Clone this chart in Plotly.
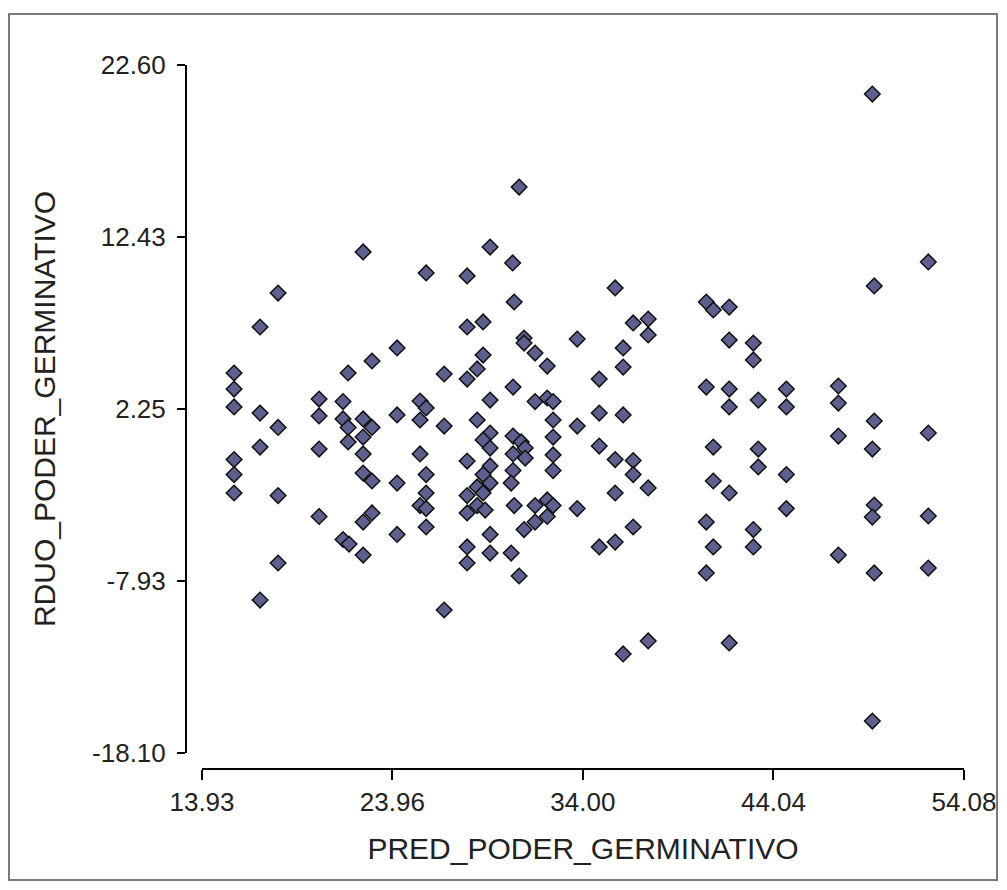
import plotly.graph_objects as go

# Predicted germination power vs. residuals
pred = [
    15.62, 15.62, 15.62, 15.62, 15.62, 15.62,
    16.99, 16.99, 16.99, 16.99,
    17.94, 17.94, 17.94, 17.94,
    20.10, 20.10, 20.10, 20.10,
    21.36, 21.36, 21.63, 21.63, 21.63, 21.36, 21.68,
    22.42, 22.89, 22.42, 22.89, 22.42, 22.42, 22.42, 22.89, 22.89, 22.42, 22.42,
    24.21, 24.21, 24.21, 24.21,
    25.74, 25.42, 25.74, 25.42, 25.42, 25.74, 25.74, 25.42, 25.74, 25.74,
    26.69, 26.69, 26.69,
    27.90, 29.11, 27.90, 28.74, 27.90, 28.43, 28.74, 29.11, 28.43, 29.11, 28.74,
    29.11, 27.90, 29.11, 28.74, 29.11, 28.43, 27.90, 28.74, 28.43, 28.85, 27.90,
    29.11, 27.90, 27.90, 29.11,
    30.64, 30.30, 30.38, 30.90, 30.32, 30.32, 30.75, 30.96, 30.32, 30.96, 30.32,
    30.22, 30.38, 30.90, 30.22, 30.64,
    30.90, 31.48, 32.12, 31.48, 32.12, 32.43, 32.43, 32.43, 32.43, 32.43, 31.48,
    32.12, 32.43, 32.12, 31.48,
    33.70, 33.70, 33.70,
    34.86, 34.86, 34.86, 34.86,
    35.70, 35.70, 35.70, 35.70,
    36.12, 36.12, 36.12, 36.12,
    36.65, 36.65, 36.65, 36.65,
    37.44, 37.44, 37.44, 37.44,
    40.50, 40.50, 40.50, 40.50,
    40.87, 40.87, 40.87, 40.87,
    41.71, 41.71, 41.71, 41.71, 41.71, 41.71,
    42.98, 42.98, 43.24, 43.24, 43.24, 42.98, 42.98,
    44.72, 44.72, 44.72, 44.72,
    47.46, 47.46, 47.46, 47.46,
    49.25, 49.35, 49.35, 49.25, 49.35, 49.25, 49.35, 49.25,
    52.20, 52.20, 52.20, 52.20,
]

resid = [
    4.38, 3.43, 2.37, -0.74, -1.63, -2.72,
    7.10, 2.01, 0.00, -9.05,
    9.11, 1.16, -2.87, -6.86,
    2.84, 1.84, -0.12, -4.11,
    2.69, 1.66, 4.38, 1.16, 0.30, -5.47, -5.74,
    11.54, 5.09, 1.66, 1.16, 0.59, -0.41, -1.54, -2.01, -3.90, -4.44, -6.39,
    5.86, 1.90, -2.13, -5.17,
    10.30, 2.72, 2.31, 1.60, -0.41, -1.63, -2.72, -3.46, -3.64, -4.73,
    4.32, 1.24, -9.64,
    10.12, 11.83, 7.10, 7.40, 4.02, 4.62, 5.44, 2.78, 1.60, 0.83, 0.42,
    -0.06, -0.83, -1.12, -1.63, -2.13, -2.36, -2.87, -2.72, -3.46, -3.73, -3.90,
    -5.17, -5.91, -6.86, -6.27,
    15.38, 10.89, 8.58, 6.45, 3.55, 0.65, 0.30, -0.06, -0.41, -0.65, -1.39,
    -2.13, -3.46, -4.88, -6.27, -7.63,
    6.15, 5.56, 4.79, 2.69, 2.90, 2.69, 1.60, 0.59, -0.47, -1.39, -3.46,
    -3.13, -3.46, -4.11, -4.44,
    6.39, 1.24, -3.64,
    4.02, 2.01, 0.06, -5.91,
    9.41, -0.74, -2.72, -5.62,
    5.86, 4.73, 1.90, -12.24,
    7.34, -0.80, -1.63, -4.73,
    7.57, 6.63, -2.42, -11.47,
    8.58, 3.55, -4.44, -7.45,
    8.11, 0.00, -2.01, -5.91,
    8.28, 6.33, 3.43, 2.37, -2.72, -11.59,
    6.15, 5.15, 2.78, -0.12, -1.18, -4.88, -5.91,
    3.43, 2.37, -1.63, -3.64,
    3.61, 2.60, 0.65, -6.39,
    20.88, 9.53, 1.54, -0.12, -3.43, -4.14, -7.45, -16.21,
    10.95, 0.83, -4.08, -7.16,
]

x_ticks = [13.93, 23.96, 34.00, 44.04, 54.08]
y_ticks = [-18.10, -7.93, 2.25, 12.43, 22.60]

FONT = "Liberation Sans, Arial, sans-serif"

fig = go.Figure(
    go.Scatter(
        x=pred,
        y=resid,
        mode="markers",
        marker=dict(
            symbol="diamond",
            size=12,
            color="#5f5f8f",
            line=dict(color="#111111", width=1.5),
        ),
        showlegend=False,
    )
)

axis_common = dict(
    showgrid=False,
    zeroline=False,
    showline=True,
    linecolor="#000000",
    linewidth=2,
    ticks="outside",
    tickcolor="#000000",
    tickwidth=2,
    tickfont=dict(family=FONT, size=26, color="#222222"),
    anchor="free",
    position=0,
    automargin=False,
)

fig.update_layout(
    width=1007,
    height=890,
    margin=dict(l=186, r=43, t=65, b=121),
    paper_bgcolor="white",
    plot_bgcolor="white",
    xaxis=dict(
        axis_common,
        range=[x_ticks[0], x_ticks[-1]],
        domain=[0.02057, 1],
        tickvals=x_ticks,
        ticktext=[f"{v:.2f}" for v in x_ticks],
        ticklen=10,
        title=dict(
            text="PRED_PODER_GERMINATIVO",
            font=dict(family=FONT, size=30, color="#222222"),
            standoff=21,
        ),
    ),
    yaxis=dict(
        axis_common,
        range=[y_ticks[0], y_ticks[-1]],
        domain=[0.02273, 1],
        tickvals=y_ticks,
        ticktext=[f"{v:.2f}" for v in y_ticks],
        ticklen=8,
        ticklabelstandoff=6,
        title=dict(
            text="RDUO_PODER_GERMINATIVO",
            font=dict(family=FONT, size=30, color="#222222"),
            standoff=27,
        ),
    ),
    shapes=[
        dict(
            type="rect",
            xref="paper",
            yref="paper",
            x0=-0.2275,
            x1=1.0424,
            y0=-0.1577,
            y1=1.0724,
            line=dict(color="#7a7a7a", width=2),
            fillcolor="rgba(0,0,0,0)",
            layer="below",
        )
    ],
)

fig.write_html("out.html")
